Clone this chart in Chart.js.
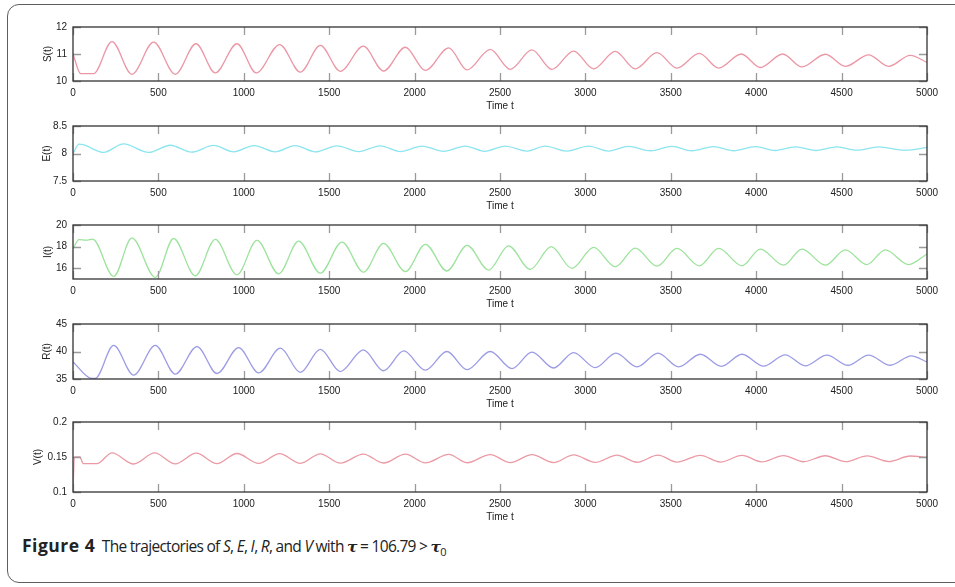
<!DOCTYPE html>
<html>
<head>
<meta charset="utf-8">
<script src="https://cdn.jsdelivr.net/npm/chart.js@4.4.0/dist/chart.umd.min.js"></script>
<style>
  html, body { margin: 0; padding: 0; background: #fff; overflow: hidden; }
  body { width: 955px; height: 587px; position: relative; }
  #frame { position: absolute; left: 7px; top: 4px; width: 980px; height: 577px;
           border: 1.5px solid #5e5e5e; border-radius: 12px; }
  #caption { position: absolute; left: 22px; top: 533px; font-family: "Open Sans", "Noto Sans", sans-serif;
             font-size: 15.5px; color: #222; white-space: nowrap; letter-spacing: -0.7px; }
  #caption b { font-size: 17.5px; letter-spacing: 0.5px; }
  #caption .tau { font-family: "DejaVu Serif", serif; font-weight: bold; font-style: italic; }
  #caption sub { font-size: 11px; }
</style>
</head>
<body>
<div id="frame"></div>
<div id="caption"><b>Figure 4</b>&nbsp; The trajectories of <i>S</i>, <i>E</i>, <i>I</i>, <i>R</i>, and <i>V</i> with <span class="tau">τ</span> = 106.79 &gt; <span class="tau">τ</span><sub>0</sub></div>

<script>
// tick labels
var xTicks = [0, 500, 1000, 1500, 2000, 2500, 3000, 3500, 4000, 4500, 5000];
var sTicks = [10, 11, 12];
var eTicks = [7.5, 8, 8.5];
var iTicks = [16, 18, 20];
var rTicks = [35, 40, 45];
var vTicks = [0.1, 0.15, 0.2];

// S(t): turning points
var sTime = [0, 45, 120, 228, 345, 472, 599, 720, 833, 960, 1073, 1210, 1331, 1448, 1565, 1700, 1818, 1946, 2063, 2200, 2307, 2443, 2560, 2687, 2804, 2931, 3048, 3175, 3292, 3419, 3536, 3667, 3780, 3913, 4024, 4155, 4268, 4405, 4522, 4658, 4775, 4902, 5000];
var sVal = [11.0, 10.27, 10.27, 11.46, 10.25, 11.44, 10.25, 11.38, 10.30, 11.38, 10.30, 11.35, 10.33, 11.32, 10.36, 11.29, 10.37, 11.25, 10.39, 11.23, 10.41, 11.17, 10.43, 11.15, 10.43, 11.11, 10.45, 11.10, 10.45, 11.05, 10.48, 11.02, 10.48, 11.00, 10.50, 11.00, 10.52, 10.99, 10.54, 10.97, 10.54, 10.95, 10.69];

// E(t)
var eTime = [0, 35, 60, 179, 296, 443, 570, 694, 823, 940, 1060, 1184, 1300, 1419, 1546, 1672, 1799, 1916, 2043, 2170, 2297, 2410, 2531, 2658, 2765, 2890, 3019, 3136, 3253, 3380, 3507, 3624, 3751, 3868, 3995, 4112, 4229, 4350, 4473, 4590, 4717, 4873, 5000];
var eVal = [8.0, 8.17, 8.16, 8.02, 8.175, 8.02, 8.15, 8.025, 8.146, 8.03, 8.145, 8.03, 8.145, 8.03, 8.14, 8.035, 8.14, 8.035, 8.135, 8.04, 8.135, 8.04, 8.135, 8.045, 8.135, 8.045, 8.135, 8.045, 8.13, 8.05, 8.13, 8.05, 8.125, 8.05, 8.125, 8.055, 8.12, 8.055, 8.12, 8.06, 8.12, 8.06, 8.11];

// I(t)
var iTime = [0, 35, 80, 115, 238, 345, 482, 589, 716, 833, 960, 1077, 1204, 1321, 1448, 1575, 1701, 1818, 1946, 2063, 2189, 2307, 2433, 2550, 2677, 2800, 2921, 3048, 3175, 3292, 3419, 3536, 3667, 3780, 3917, 4024, 4160, 4268, 4405, 4522, 4648, 4756, 4892, 5000];
var iVal = [17.8, 18.65, 18.6, 18.7, 15.24, 18.8, 15.15, 18.75, 15.3, 18.66, 15.39, 18.57, 15.48, 18.51, 15.54, 18.42, 15.63, 18.3, 15.68, 18.21, 15.74, 18.12, 15.83, 18.07, 15.89, 18.0, 15.98, 17.92, 16.13, 17.86, 16.19, 17.83, 16.22, 17.83, 16.22, 17.77, 16.28, 17.77, 16.28, 17.7, 16.34, 17.7, 16.34, 17.32];

// R(t)
var rTime = [0, 110, 130, 238, 355, 482, 599, 726, 843, 970, 1087, 1214, 1331, 1448, 1565, 1700, 1818, 1936, 2063, 2189, 2307, 2443, 2570, 2687, 2814, 2931, 3058, 3179, 3302, 3425, 3546, 3673, 3796, 3917, 4043, 4170, 4287, 4414, 4537, 4658, 4785, 4908, 5000];
var rVal = [38.1, 35.1, 35.1, 41.1, 35.7, 41.1, 35.9, 40.9, 36.0, 40.7, 36.1, 40.6, 36.2, 40.4, 36.35, 40.3, 36.5, 40.1, 36.6, 40.0, 36.7, 40.0, 36.9, 39.9, 37.0, 39.8, 37.06, 39.7, 37.2, 39.7, 37.2, 39.5, 37.3, 39.5, 37.35, 39.4, 37.4, 39.35, 37.5, 39.35, 37.5, 39.2, 38.1];

// V(t)
var vTime = [0, 8, 40, 60, 140, 228, 355, 478, 599, 722, 843, 960, 1087, 1210, 1331, 1448, 1565, 1700, 1818, 1946, 2063, 2200, 2307, 2443, 2560, 2687, 2814, 2931, 3058, 3185, 3302, 3425, 3536, 3673, 3790, 3917, 4033, 4160, 4277, 4405, 4522, 4650, 4775, 4902, 5000];
var vVal = [0.1, 0.15, 0.15, 0.1405, 0.1405, 0.156, 0.140, 0.1558, 0.1402, 0.1555, 0.1405, 0.155, 0.1408, 0.1548, 0.141, 0.1545, 0.1412, 0.1542, 0.1414, 0.154, 0.1416, 0.1538, 0.1418, 0.1535, 0.142, 0.1533, 0.1421, 0.153, 0.1423, 0.1528, 0.1425, 0.1526, 0.1427, 0.1524, 0.1428, 0.1522, 0.143, 0.152, 0.1432, 0.1518, 0.1433, 0.1516, 0.1435, 0.1514, 0.1495];

var tickFont = { family: 'Liberation Sans', size: 10 };

// matlab style box with inward ticks
var boxPlugin = {
    id: 'box',
    afterDraw: function (chart) {
        var a = chart.chartArea, ctx = chart.ctx;
        var xs = chart.scales.x, ys = chart.scales.y;
        ctx.save();
        ctx.strokeStyle = '#9a9a9a';
        ctx.lineWidth = 1.3;
        ctx.beginPath();
        xs.ticks.forEach(function (t) {
            var px = Math.round(xs.getPixelForValue(t.value)) + 0.5;
            ctx.moveTo(px, a.top); ctx.lineTo(px, a.top + 8);
            ctx.moveTo(px, a.bottom); ctx.lineTo(px, a.bottom - 8);
        });
        ys.ticks.forEach(function (t) {
            var py = Math.round(ys.getPixelForValue(t.value)) + 0.5;
            ctx.moveTo(a.left, py); ctx.lineTo(a.left + 8, py);
            ctx.moveTo(a.right, py); ctx.lineTo(a.right - 8, py);
        });
        ctx.stroke();
        ctx.strokeStyle = '#333';
        ctx.lineWidth = 1.3;
        ctx.strokeRect(a.left, a.top, a.right - a.left, a.bottom - a.top);
        ctx.restore();
    }
};

function makePanel(top, h, times, vals, color, yMin, yMax, yTicks, yName, titlePad) {
    var canvas = document.createElement('canvas');
    canvas.width = 955;
    canvas.height = h + 44;
    canvas.style.position = 'absolute';
    canvas.style.left = '0px';
    canvas.style.top = (top - 10) + 'px';
    document.body.appendChild(canvas);

    var pts = times.map(function (t, i) { return { x: t, y: vals[i] }; });

    return new Chart(canvas, {
        type: 'line',
        data: {
            datasets: [{
                data: pts, borderColor: color, borderWidth: 1.3,
                pointRadius: 0, fill: false, cubicInterpolationMode: 'monotone'
            }]
        },
        options: {
            responsive: false,
            animation: false,
            layout: { padding: { top: 10, right: 28, left: 0, bottom: 0 } },
            plugins: { legend: { display: false }, tooltip: { enabled: false } },
            scales: {
                x: {
                    type: 'linear', min: 0, max: 5000,
                    afterBuildTicks: function (s) { s.ticks = xTicks.map(function (v) { return { value: v }; }); },
                    afterFit: function (s) { s.height = 34; },
                    grid: { display: false, drawTicks: false },
                    border: { display: false },
                    ticks: { padding: 6, color: '#222', font: tickFont, maxRotation: 0, autoSkip: false,
                             callback: function (v) { return String(v); } },
                    title: { display: true, text: 'Time t', color: '#222', font: tickFont, padding: { top: 0, bottom: 3 } }
                },
                y: {
                    type: 'linear', min: yMin, max: yMax,
                    afterBuildTicks: function (s) { s.ticks = yTicks.map(function (v) { return { value: v }; }); },
                    afterFit: function (s) { s.width = 73; },
                    grid: { display: false, drawTicks: false },
                    border: { display: false },
                    ticks: { padding: 6, color: '#222', font: tickFont, autoSkip: false,
                             callback: function (v) { return String(+v.toFixed(4)); } },
                    title: { display: true, text: yName, color: '#222', font: tickFont, padding: { top: titlePad, bottom: 0 } }
                }
            }
        },
        plugins: [boxPlugin]
    });
}

makePanel(25, 56, sTime, sVal, '#ec97a6', 10, 12, sTicks, 'S(t)', 42);
makePanel(124, 57, eTime, eVal, '#8ce5ef', 7.5, 8.5, eTicks, 'E(t)', 41);
makePanel(223, 56, iTime, iVal, '#9de39d', 15, 20, iTicks, 'I(t)', 42);
makePanel(322, 57, rTime, rVal, '#9c9ce6', 35, 45, rTicks, 'R(t)', 41);
makePanel(420, 72, vTime, vVal, '#eb9aa5', 0.1, 0.2, vTicks, 'V(t)', 32);
</script>
</body>
</html>
